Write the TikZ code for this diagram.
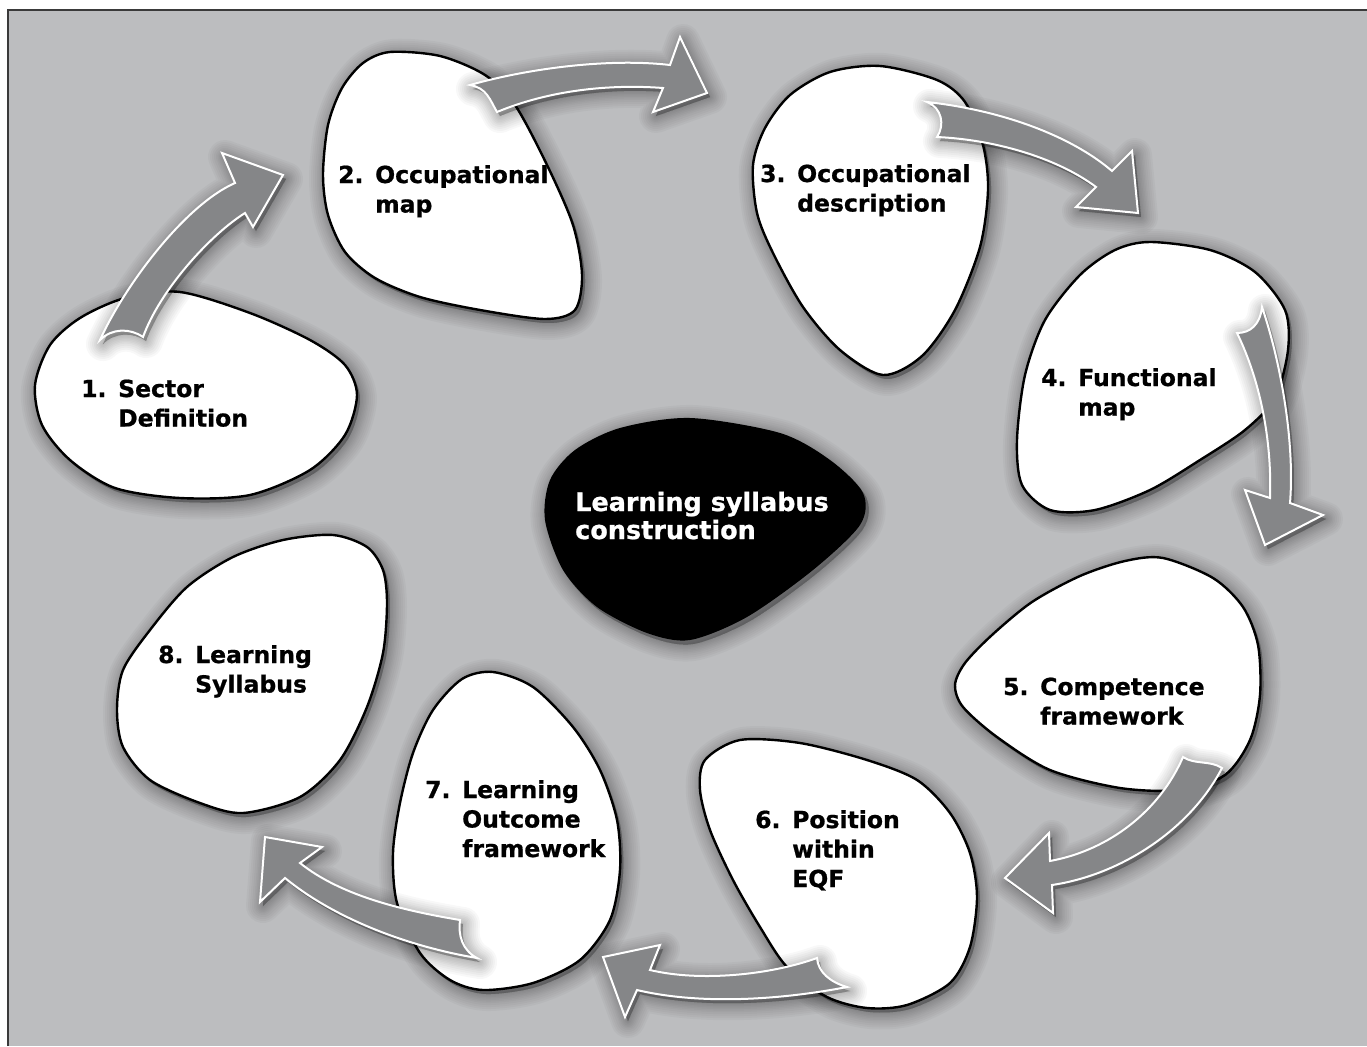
\documentclass[tikz,border=0pt]{standalone}
\usepackage{fontspec}
\setmainfont{DejaVu Sans}[BoldFeatures={FakeBold=0.8}]
\definecolor{bggray}{HTML}{BCBDBF}
\definecolor{arrgray}{HTML}{858688}
\definecolor{framecol}{HTML}{3A3A3A}
\tikzset{
  blob/.style={fill=white, draw=black, line width=2.4pt},
  darkblob/.style={fill=black},
  bigarrow/.style={fill=arrgray, draw=white, line width=2pt, line join=miter},
  shadowlayer/.style={fill=black, draw=black, opacity=0.028, line join=round, shift={(3,4)}},
  lab/.style={anchor=base west, inner sep=0pt, font=\bfseries\fontsize{23.5}{29.5}\selectfont},
  centerlab/.style={anchor=base west, inner sep=0pt, text=white, font=\bfseries\fontsize{25.5}{28}\selectfont},
}
\newcommand\numlab[1]{\makebox[37pt][l]{#1}}
\newcommand\softshadow[1]{%
  \foreach \w in {34,30,26,22,18,15,12,9,6,3,1}{\path[shadowlayer, line width=\w pt] #1;}}
\newcommand\shadedshape[2]{\softshadow{#2}\path[#1] #2;}
\begin{document}
\begin{tikzpicture}[x=1pt,y=-1pt]
\useasboundingbox (0,0) rectangle (1367,1046);
\fill[bggray] (8,10) rectangle (1367,1046);
\draw[framecol, line width=2pt] (8,1046) -- (8,10) -- (1367,10);

% blobs
\shadedshape{blob}{plot[smooth cycle] coordinates {(35,385) (50,345) (80,318) (125,298) (180,292) (250,313) (310,340) (345,365) (357,395) (345,435) (310,470) (250,495) (180,498) (115,488) (70,460) (42,425)}}
\shadedshape{blob}{plot[smooth cycle] coordinates {(390,52) (440,56) (485,75) (515,105) (547,165) (573,225) (582,275) (575,310) (545,319) (480,310) (420,297) (375,278) (345,252) (328,215) (323,175) (328,125) (342,88) (363,63)}}
\shadedshape{blob}{plot[smooth cycle] coordinates {(880,66) (937,80) (965,102) (983,145) (988,190) (980,247) (955,310) (922,356) (883,375) (840,350) (803,307) (773,253) (757,213) (753,165) (765,128) (790,95) (830,72)}}
\shadedshape{blob}{plot[smooth cycle] coordinates {(1150,242) (1210,250) (1255,272) (1285,310) (1288,350) (1275,398) (1245,430) (1200,460) (1150,490) (1095,510) (1050,510) (1022,485) (1017,440) (1025,375) (1045,320) (1080,275) (1115,250)}}
\shadedshape{blob}{plot[smooth cycle] coordinates {(1163,558) (1213,578) (1243,607) (1258,645) (1260,695) (1250,740) (1225,775) (1180,790) (1120,788) (1050,770) (997,737) (963,707) (955,685) (965,663) (992,635) (1032,602) (1080,576) (1125,561)}}
\shadedshape{blob}{plot[smooth cycle] coordinates {(740,740) (800,743) (867,760) (917,780) (950,813) (970,853) (977,897) (970,947) (950,983) (907,1005) (867,1008) (827,997) (787,967) (760,927) (733,880) (710,830) (700,790) (705,760)}}
\shadedshape{blob}{plot[smooth cycle] coordinates {(493,672) (533,687) (573,727) (600,770) (617,820) (620,870) (610,920) (580,960) (533,983) (483,990) (450,980) (420,953) (397,903) (393,853) (400,803) (413,753) (433,710) (462,679)}}
\shadedshape{blob}{plot[smooth cycle] coordinates {(333,535) (367,547) (383,570) (387,603) (383,653) (367,707) (340,760) (300,797) (243,813) (200,803) (150,780) (123,747) (117,710) (123,670) (150,630) (187,587) (233,557) (283,540)}}
\shadedshape{darkblob}{plot[smooth cycle] coordinates {(690,418) (780,433) (830,460) (863,493) (860,525) (813,570) (747,617) (690,640) (647,633) (597,607) (563,570) (545,520) (550,480) (575,450) (620,428)}}

% arrows
\shadedshape{bigarrow}{(100,340) .. controls (125,285) and (185,205) .. (235,183) -- (222,153) -- (283,175) -- (253,227) -- (245,213) .. controls (210,235) and (160,290) .. (143,337) .. controls (130,328) and (112,328) .. (100,340) -- cycle}
\shadedshape{bigarrow}{(470,85) .. controls (530,68) and (610,58) .. (670,65) -- (680,37) -- (707,93) -- (653,112) -- (663,88) .. controls (610,84) and (550,90) .. (497,112) .. controls (490,100) and (487,88) .. (470,85) -- cycle}
\shadedshape{bigarrow}{(927,102) .. controls (1000,110) and (1070,135) .. (1112,171) -- (1132,151) -- (1138,213) -- (1076,207) -- (1096,187) .. controls (1060,160) and (1000,140) .. (937,137) .. controls (945,125) and (942,108) .. (927,102) -- cycle}
\shadedshape{bigarrow}{(1262,307) .. controls (1280,360) and (1295,440) .. (1290,503) -- (1323,515) -- (1265,545) -- (1245,490) -- (1270,498) .. controls (1272,440) and (1260,380) .. (1237,333) .. controls (1250,333) and (1260,325) .. (1262,307) -- cycle}
\shadedshape{bigarrow}{(1222,768) .. controls (1190,830) and (1120,875) .. (1052,885) -- (1053,913) -- (1005,878) -- (1049,833) -- (1050,861) .. controls (1110,850) and (1160,810) .. (1183,757) .. controls (1195,765) and (1210,760) .. (1222,768) -- cycle}
\shadedshape{bigarrow}{(817,958) .. controls (770,975) and (700,982) .. (650,970) -- (660,945) -- (603,957) -- (625,1017) -- (637,990) .. controls (700,1005) and (780,1000) .. (847,987) .. controls (830,982) and (818,972) .. (817,958) -- cycle}
\shadedshape{bigarrow}{(460,920) .. controls (400,910) and (340,895) .. (300,863) -- (322,847) -- (265,837) -- (260,902) -- (285,878) .. controls (330,915) and (400,945) .. (477,958) .. controls (462,950) and (458,935) .. (460,920) -- cycle}

% labels
\node[lab] (t1) at (81,397) {\begin{tabular}[t]{@{}l@{}l@{}}\numlab{1.}&Sector\\&Definition\end{tabular}};
\node[lab] (t2) at (338,183) {\begin{tabular}[t]{@{}l@{}l@{}}\numlab{2.}&Occupational\\&map\end{tabular}};
\node[lab] (t3) at (760,182) {\begin{tabular}[t]{@{}l@{}l@{}}\numlab{3.}&Occupational\\&description\end{tabular}};
\node[lab] (t4) at (1041,386) {\begin{tabular}[t]{@{}l@{}l@{}}\numlab{4.}&Functional\\&map\end{tabular}};
\node[lab] (t5) at (1003,695) {\begin{tabular}[t]{@{}l@{}l@{}}\numlab{5.}&Competence\\&framework\end{tabular}};
\node[lab] (t6) at (755,828) {\begin{tabular}[t]{@{}l@{}l@{}}\numlab{6.}&Position\\&within\\&EQF\end{tabular}};
\node[lab] (t7) at (425,798) {\begin{tabular}[t]{@{}l@{}l@{}}\numlab{7.}&Learning\\&Outcome\\&framework\end{tabular}};
\node[lab] (t8) at (158,663) {\begin{tabular}[t]{@{}l@{}l@{}}\numlab{8.}&Learning\\&Syllabus\end{tabular}};
\node[centerlab] (c) at (575,511) {\begin{tabular}[t]{@{}l@{}}Learning syllabus\\construction\end{tabular}};
\end{tikzpicture}
\end{document}
